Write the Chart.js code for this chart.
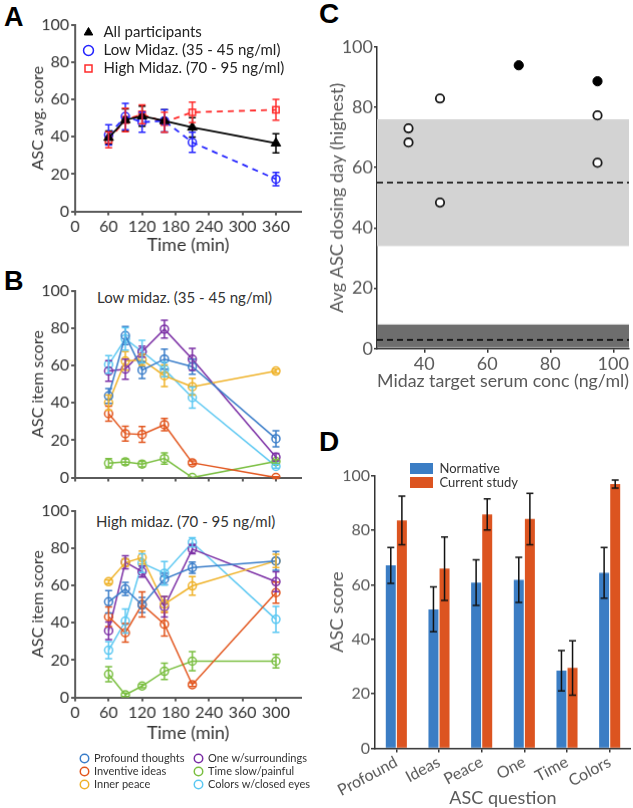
<!DOCTYPE html>
<html>
<head>
<meta charset="utf-8">
<script src="https://cdn.jsdelivr.net/npm/chart.js@4.4.0/dist/chart.umd.min.js"></script>
<style>
  body { margin: 0; background: #fff; }
  #page { position: relative; width: 633px; height: 808px; overflow: hidden; font-family: Lato, sans-serif; }
  .wrap { position: absolute; left: 0; top: 0; }
  .letter { position: absolute; font-family: "Liberation Sans", Arial, sans-serif; font-weight: bold; font-size: 27px; line-height: 1; color: #000; }
  .sub { position: absolute; font-size: 15px; line-height: 15px; color: #333; white-space: nowrap; }
</style>
</head>
<body>
<div id="page">
  <div class="letter" style="left:4px;top:4px">A</div>
  <div class="letter" style="left:4px;top:268px">B</div>
  <div class="letter" style="left:319px;top:0px;font-size:28px">C</div>
  <div class="letter" style="left:319px;top:428px;font-size:28px">D</div>
  <div class="sub" style="left:97px;top:290px">Low midaz. (35 - 45 ng/ml)</div>
  <div class="sub" style="left:96px;top:514px">High midaz. (70 - 95 ng/ml)</div>

  <div class="wrap" id="wA"><canvas id="chartA" width="330" height="280"></canvas></div>
  <div class="wrap" id="wLA"><canvas id="legA" width="220" height="60"></canvas></div>
  <div class="wrap" id="wB1"><canvas id="chartB1" width="330" height="240"></canvas></div>
  <div class="wrap" id="wB2"><canvas id="chartB2" width="330" height="280"></canvas></div>
  <div class="wrap" id="wL1"><canvas id="legB1" width="125" height="56"></canvas></div>
  <div class="wrap" id="wL2"><canvas id="legB2" width="135" height="56"></canvas></div>
  <div class="wrap" id="wC"><canvas id="chartC" width="320" height="400"></canvas></div>
  <div class="wrap" id="wD"><canvas id="chartD" width="320" height="380"></canvas></div>
  <div class="wrap" id="wLD"><canvas id="legD" width="130" height="32"></canvas></div>
</div>

<script>
// Panel A - average ASC score over time
const timesA = [60, 90, 120, 160, 210, 360];
const allMean = [39.5, 49, 51, 48.5, 45, 36.5];
const allErr = [3.5, 5.9, 5.4, 6, 5.2, 5.1];
const lowMean = [41, 50.8, 47.8, 48.5, 37, 17.3];
const lowErr = [5.4, 7, 5.4, 6, 5.4, 3.6];
const highMean = [38.3, 49, 52, 47.8, 53.1, 54.4];
const highErr = [4.2, 6.3, 5, 5.4, 5.4, 5.6];
const timeTicks = [0, 60, 120, 180, 240, 300, 360];
const timeTickLabelsB = ["0", "60", "120", "180", "240", "360", "300"];

// Panel B - item scores, low and high group
const timesB = [60, 90, 120, 160, 210, 360];
const itemNames = ["Profound thoughts", "Inventive ideas", "Inner peace", "One w/surroundings", "Time slow/painful", "Colors w/closed eyes"];
const itemColors = ["#3a7dc9", "#e2561e", "#efb229", "#7b2fa5", "#7bbf42", "#5cc8f2"];

const lowProfound = [43.7, 76, 57.5, 63.4, 59.3, 20.8];
const lowIdeas = [34.2, 23.5, 23.1, 28.3, 7.9, 0];
const lowPeace = [40.1, 62.4, 63, 54.5, 48.6, 57];
const lowOne = [57, 58, 67.4, 79.4, 63.3, 10.9];
const lowTime = [7.7, 8.4, 7.2, 10.2, 0, 8.6];
const lowColors = [60.5, 74.2, 67.4, 57.9, 42.8, 6];
const lowProfoundErr = [4, 4.8, 4.5, 5.4, 4, 4.3];
const lowIdeasErr = [4, 4, 4.2, 3.3, 1, 0.5];
const lowPeaceErr = [4, 5, 3, 5.8, 4.5, 1];
const lowOneErr = [5.5, 5.4, 3, 4.8, 5.8, 2];
const lowTimeErr = [2.5, 1.5, 1.5, 3, 0, 1];
const lowColorsErr = [4.7, 6, 6, 4, 5.6, 1];

const highProfound = [51.2, 58.1, 49.5, 63.4, 69.5, 73.1];
const highIdeas = [43.2, 34.6, 49.8, 39.2, 6.8, 56.1];
const highPeace = [62, 72.2, 74.9, 50, 59.7, 73.1];
const highOne = [35.7, 72.4, 67.4, 48.6, 79.4, 62];
const highTime = [12.4, 1.4, 6.1, 14, 19.4, 19.4];
const highColors = [25.3, 40.9, 71.9, 66.5, 83, 41.8];
const highProfoundErr = [6, 3.5, 4, 3, 3, 5];
const highIdeasErr = [5.2, 5, 6.7, 6.3, 1, 5.6];
const highPeaceErr = [1, 2, 3.5, 4, 5, 3.5];
const highOneErr = [4.7, 3.5, 3, 5.5, 2.5, 5.3];
const highTimeErr = [4, 1, 1, 4.4, 5.1, 3.6];
const highColorsErr = [4.6, 6.4, 5, 6.3, 2.5, 6.9];

// Panel C - highest dosing day score vs target concentration
const cOpenConc = [35, 35, 45, 45, 95, 95];
const cOpenScore = [73, 68.3, 82.9, 48.4, 77.3, 61.6];
const cFilledConc = [70, 95];
const cFilledScore = [93.9, 88.6];
const normBand = [34, 55, 76];      // low, mean, high
const placeboBand = [0.4, 2.9, 8];  // low, mean, high
const concTicks = [40, 60, 80, 100];

// Panel D - normative vs current study
const dQuestions = ["Profound", "Ideas", "Peace", "One", "Time", "Colors"];
const normScore = [67.1, 51, 60.8, 61.8, 28.5, 64.4];
const normErr = [6.6, 8.2, 8.4, 8.3, 7.4, 9.3];
const currentScore = [83.6, 65.9, 85.8, 84.1, 29.5, 96.9];
const currentErr = [8.9, 11.6, 5.7, 9.4, 10, 1.5];

Chart.defaults.font.family = "Lato, sans-serif";
Chart.defaults.animation = false;
Chart.defaults.responsive = false;
Chart.defaults.maintainAspectRatio = false;
Chart.defaults.plugins.legend.display = false;
Chart.defaults.plugins.tooltip.enabled = false;

// draws +/- error whiskers for any dataset that has an "errors" array
const errorBars = {
  id: "errorBars",
  afterDatasetsDraw(chart) {
    const ctx = chart.ctx;
    const yScale = chart.scales.y;
    chart.data.datasets.forEach((ds, i) => {
      if (!ds.errors) return;
      const meta = chart.getDatasetMeta(i);
      ctx.save();
      ctx.strokeStyle = ds.errorColor || ds.borderColor;
      ctx.lineWidth = ds.errorWidth || 1.5;
      meta.data.forEach((el, j) => {
        const v = ds.data[j];
        const val = typeof v === "object" ? v.y : v;
        const e = ds.errors[j];
        if (val == null || !e) return;
        const top = yScale.getPixelForValue(val + e);
        const bot = yScale.getPixelForValue(val - e);
        const cap = ds.capWidth || 3.5;
        ctx.beginPath();
        ctx.moveTo(el.x, top); ctx.lineTo(el.x, bot);
        ctx.moveTo(el.x - cap, top); ctx.lineTo(el.x + cap, top);
        ctx.moveTo(el.x - cap, bot); ctx.lineTo(el.x + cap, bot);
        ctx.stroke();
      });
      ctx.restore();
    });
  }
};

// shaded ranges + dashed mean lines (panel C)
const bandPlugin = {
  id: "bands",
  beforeDatasetsDraw(chart, args, opts) {
    if (!opts.items) return;
    const {ctx, chartArea} = chart;
    const y = chart.scales.y;
    ctx.save();
    opts.items.forEach(b => {
      const top = y.getPixelForValue(b.range[2]);
      const bot = y.getPixelForValue(b.range[0]);
      ctx.fillStyle = b.color;
      ctx.fillRect(chartArea.left, top, chartArea.right - chartArea.left, bot - top);
      const mid = y.getPixelForValue(b.range[1]);
      ctx.strokeStyle = "#000";
      ctx.lineWidth = 1.5;
      ctx.setLineDash([6, 4]);
      ctx.beginPath();
      ctx.moveTo(chartArea.left, mid);
      ctx.lineTo(chartArea.right, mid);
      ctx.stroke();
      ctx.setLineDash([]);
    });
    ctx.restore();
  }
};

function pts(xs, ys) {
  return xs.map((x, i) => ({x: x, y: ys[i]}));
}

function axis(color, width, tickLen) {
  return {
    border: {display: true, color: color, width: width},
    grid: {display: true, drawOnChartArea: false, drawTicks: true, tickLength: tickLen, color: color, lineWidth: width}
  };
}

// move/resize the canvas so the plot area lands on the given box
function fit(chart, wrapId, area) {
  const ca = chart.chartArea;
  const w = chart.width + (area.r - area.l) - (ca.right - ca.left);
  const h = chart.height + (area.b - area.t) - (ca.bottom - ca.top);
  chart.resize(w, h);
  const ca2 = chart.chartArea;
  const wrap = document.getElementById(wrapId);
  wrap.style.left = (area.l - ca2.left) + "px";
  wrap.style.top = (area.t - ca2.top) + "px";
}

function place(wrapId, left, top) {
  const wrap = document.getElementById(wrapId);
  wrap.style.left = left + "px";
  wrap.style.top = top + "px";
}

function timeAxis(showLabels, labels, height) {
  return Object.assign(axis("#5a5a5a", 2, 4), {
    type: "linear", min: 0, max: 405,
    afterBuildTicks: s => { s.ticks = timeTicks.map(v => ({value: v})); },
    afterFit: s => { s.height = height; },
    ticks: {display: showLabels, color: "#333", font: {size: 16}, padding: 2, maxRotation: 0,
            callback: (v, i) => labels[i]},
    title: {display: showLabels, text: "Time (min)", color: "#333", font: {size: 18}}
  });
}

function scoreAxis(title) {
  return Object.assign(axis("#5a5a5a", 2, 4), {
    min: 0, max: 100,
    afterFit: s => { s.width = 51; },
    ticks: {stepSize: 20, color: "#333", font: {size: 16}, padding: 2},
    title: {display: true, text: title, color: "#333", font: {size: 16}}
  });
}

// legend-only chart, used to put legends exactly where the figure has them
function legendOnly(id, type, datasets, labels) {
  return new Chart(document.getElementById(id), {
    type: type,
    data: {datasets: datasets},
    options: {
      layout: {padding: 0},
      scales: {x: {display: false}, y: {display: false}},
      plugins: {legend: {display: true, position: "chartArea", align: "start", labels: labels}}
    }
  });
}

// ---- Panel A ----
const setsA = [
  {label: "All participants", data: pts(timesA, allMean), errors: allErr,
   borderColor: "#000", borderWidth: 1.8, pointStyle: "triangle", pointRadius: 5.5,
   pointBackgroundColor: "#000", pointBorderColor: "#000", pointBorderWidth: 1},
  {label: "Low Midaz. (35 - 45 ng/ml)", data: pts(timesA, lowMean), errors: lowErr,
   borderColor: "#2323ff", borderWidth: 1.8, borderDash: [6, 5], pointStyle: "circle", pointRadius: 4,
   pointBackgroundColor: "rgba(255,255,255,0)", pointBorderColor: "#2323ff", pointBorderWidth: 1.5},
  {label: "High Midaz. (70 - 95 ng/ml)", data: pts(timesA, highMean), errors: highErr,
   borderColor: "#ff2b2b", borderWidth: 1.8, borderDash: [6, 5], pointStyle: "rect", pointRadius: 4.5,
   pointBackgroundColor: "rgba(255,255,255,0)", pointBorderColor: "#ff2b2b", pointBorderWidth: 1.5}
];
const chartA = new Chart(document.getElementById("chartA"), {
  type: "line",
  data: {datasets: setsA},
  options: {
    layout: {padding: 0},
    scales: {
      x: timeAxis(true, timeTicks.map(String), 48),
      y: scoreAxis("ASC avg. score")
    }
  },
  plugins: [errorBars]
});
fit(chartA, "wA", {l: 75, t: 25, r: 300, b: 211});

legendOnly("legA", "line", setsA.map(d => Object.assign({}, d, {data: []})),
  {usePointStyle: true, boxHeight: 7, boxWidth: 15, padding: 3, color: "#222", font: {size: 15}});
place("wLA", 78, 22);

// ---- Panel B ----
function itemSets(series, errs, offset) {
  return series.map((s, k) => ({
    label: itemNames[k + offset], data: pts(timesB, s), errors: errs[k],
    borderColor: itemColors[k + offset], borderWidth: 1.5, pointStyle: "circle", pointRadius: 4,
    pointBackgroundColor: "rgba(255,255,255,0)", pointBorderColor: itemColors[k + offset], pointBorderWidth: 1.5
  }));
}

const chartB1 = new Chart(document.getElementById("chartB1"), {
  type: "line",
  data: {datasets: itemSets(
    [lowProfound, lowIdeas, lowPeace, lowOne, lowTime, lowColors],
    [lowProfoundErr, lowIdeasErr, lowPeaceErr, lowOneErr, lowTimeErr, lowColorsErr], 0)},
  options: {
    scales: {x: timeAxis(false, timeTickLabelsB, 6), y: scoreAxis("ASC item score")}
  },
  plugins: [errorBars]
});
fit(chartB1, "wB1", {l: 75, t: 291, r: 300, b: 477});

const chartB2 = new Chart(document.getElementById("chartB2"), {
  type: "line",
  data: {datasets: itemSets(
    [highProfound, highIdeas, highPeace, highOne, highTime, highColors],
    [highProfoundErr, highIdeasErr, highPeaceErr, highOneErr, highTimeErr, highColorsErr], 0)},
  options: {
    scales: {x: timeAxis(true, timeTickLabelsB, 50), y: scoreAxis("ASC item score")}
  },
  plugins: [errorBars]
});
fit(chartB2, "wB2", {l: 75, t: 511, r: 300, b: 697});

// legend for panel B, two columns of three
const itemLegendLabels = {usePointStyle: true, boxHeight: 6, boxWidth: 8, padding: 2, color: "#333", font: {size: 11}};
legendOnly("legB1", "line", itemSets([[], [], []], [[], [], []], 0), itemLegendLabels);
legendOnly("legB2", "line", itemSets([[], [], []], [[], [], []], 3), itemLegendLabels);
place("wL1", 73, 751);
place("wL2", 187, 751);

// ---- Panel C ----
const chartC = new Chart(document.getElementById("chartC"), {
  type: "scatter",
  data: {
    datasets: [
      {label: "open", data: pts(cOpenConc, cOpenScore), pointRadius: 4.2, pointBorderWidth: 1.8,
       pointBorderColor: "#1a1a1a", pointBackgroundColor: "#fff"},
      {label: "filled", data: pts(cFilledConc, cFilledScore), pointRadius: 4.6, pointBorderWidth: 1,
       pointBorderColor: "#000", pointBackgroundColor: "#000"}
    ]
  },
  options: {
    scales: {
      x: Object.assign(axis("#333", 1.5, 4), {
        type: "linear", min: 25, max: 105,
        afterBuildTicks: s => { s.ticks = concTicks.map(v => ({value: v})); },
        afterFit: s => { s.height = 47; },
        ticks: {color: "#595959", font: {size: 18}, padding: 1, maxRotation: 0},
        title: {display: true, text: "Midaz target serum conc (ng/ml)", color: "#595959", font: {size: 18}}
      }),
      y: Object.assign(axis("#333", 1.5, 3), {
        min: 0, max: 100,
        afterFit: s => { s.width = 55; },
        ticks: {stepSize: 20, color: "#595959", font: {size: 18}, padding: 1},
        title: {display: true, text: "Avg ASC dosing day (highest)", color: "#595959", font: {size: 18}}
      })
    },
    plugins: {
      bands: {items: [
        {range: normBand, color: "#d3d3d3"},
        {range: placeboBand, color: "#6e6e6e"}
      ]}
    }
  },
  plugins: [bandPlugin]
});
fit(chartC, "wC", {l: 377, t: 47, r: 629, b: 348});

// ---- Panel D ----
const normColor = "#3b7dc4";
const currentColor = "#dc5420";
const chartD = new Chart(document.getElementById("chartD"), {
  type: "bar",
  data: {
    labels: dQuestions,
    datasets: [
      {label: "Normative", data: normScore, errors: normErr, backgroundColor: normColor,
       errorColor: "#111", categoryPercentage: 0.52, barPercentage: 0.9},
      {label: "Current study", data: currentScore, errors: currentErr, backgroundColor: currentColor,
       errorColor: "#111", categoryPercentage: 0.52, barPercentage: 0.9}
    ]
  },
  options: {
    scales: {
      x: Object.assign(axis("#333", 1.5, 4), {
        afterFit: s => { s.height = 64; },
        ticks: {color: "#595959", font: {size: 16}, padding: 0, autoSkip: false, minRotation: 28, maxRotation: 28},
        title: {display: true, text: "ASC question", color: "#595959", font: {size: 18}}
      }),
      y: Object.assign(axis("#333", 1.5, 4), {
        min: 0, max: 100,
        afterFit: s => { s.width = 53; },
        ticks: {stepSize: 20, color: "#595959", font: {size: 16}, padding: 1},
        title: {display: true, text: "ASC score", color: "#595959", font: {size: 18}}
      })
    }
  },
  plugins: [errorBars]
});
chartD.options.scales.x.grid.offset = false;
chartD.update();
fit(chartD, "wD", {l: 375, t: 476, r: 631, b: 748});

legendOnly("legD", "bar", [
  {label: "Normative", data: [], backgroundColor: normColor},
  {label: "Current study", data: [], backgroundColor: currentColor}
], {boxWidth: 23, boxHeight: 11, padding: 1, color: "#333", font: {size: 13}});
place("wLD", 409, 461);
</script>
</body>
</html>
